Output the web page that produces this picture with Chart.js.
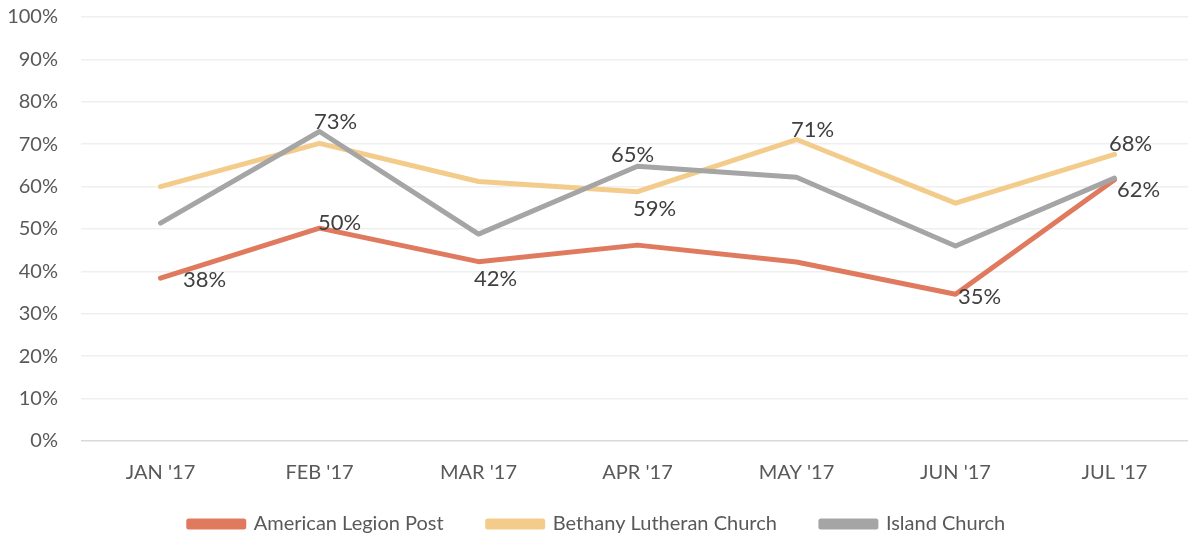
<!DOCTYPE html>
<html>
<head>
<meta charset="utf-8">
<script src="https://cdn.jsdelivr.net/npm/chart.js@4/dist/chart.umd.min.js"></script>
<style>
  html, body { margin: 0; padding: 0; background: #fff; overflow: hidden; }
  #wrap { width: 1194px; height: 540px; }
</style>
</head>
<body>
<div id="wrap"><canvas id="lineChart"></canvas></div>
<script>
    var months = ["JAN '17", "FEB '17", "MAR '17", "APR '17", "MAY '17", "JUN '17", "JUL '17"];
    var yTicks = [0, 10, 20, 30, 40, 50, 60, 70, 80, 90, 100];

    var legionPost = [38.4, 50.2, 42.3, 46.2, 42.2, 34.6, 61.6];
    var bethanyLutheran = [60.0, 70.2, 61.2, 58.8, 71.1, 56.1, 67.6];
    var islandChurch = [51.4, 73.0, 48.8, 64.8, 62.2, 46.0, 62.0];

    // which points carry a value label, and where it sits
    var legionLabels = ['farRight', 'upRight', 'down', null, null, 'right', null];
    var bethanyLabels = [null, null, null, 'down', 'up', null, 'up'];
    var islandLabels = [null, 'up', null, 'upLeft', null, null, 'downRight'];

    var labelOffsets = {
        farRight: [44, 2],
        right: [24, 3],
        upRight: [20, -5],
        down: [17, 17],
        up: [16, -10],
        upLeft: [-5, -11],
        downRight: [24, 12]
    };

    var pointLabels = {
        id: 'pointLabels',
        afterDatasetsDraw: function (chart) {
            var c = chart.ctx;
            c.save();
            c.font = '22px Lato';
            c.fillStyle = '#404040';
            c.textAlign = 'center';
            c.textBaseline = 'middle';
            chart.data.datasets.forEach(function (ds, i) {
                var meta = chart.getDatasetMeta(i);
                meta.data.forEach(function (pt, j) {
                    var where = ds.pointLabels[j];
                    if (!where) return;
                    var off = labelOffsets[where];
                    c.fillText(Math.round(ds.data[j]) + '%', pt.x + off[0], pt.y + off[1]);
                });
            });
            c.restore();
        }
    };

    // legend padding sets the gap between items; keep it from eating chart height
    var legendSpacing = {
        id: 'legendSpacing',
        beforeLayout: function (chart) {
            var lg = chart.legend;
            if (!lg || lg.trimmed) return;
            var fit = lg.fit;
            lg.fit = function () { fit.call(this); this.height = 54; };
            lg.trimmed = true;
        },
        afterLayout: function (chart) {
            // let the legend box reach up into the spare room under the x labels
            chart.legend.top -= 16;
            chart.legend.height += 16;
        }
    };

    var ctx = document.getElementById('lineChart').getContext('2d');
    var chart = new Chart(ctx, {
        type: 'line',
        data: {
            labels: months,
            datasets: [{
                label: 'American Legion Post',
                data: legionPost,
                pointLabels: legionLabels,
                borderColor: '#e07a5f',
                backgroundColor: '#e07a5f',
                order: 3
            }, {
                label: 'Bethany Lutheran Church',
                data: bethanyLutheran,
                pointLabels: bethanyLabels,
                borderColor: '#f3cc8c',
                backgroundColor: '#f3cc8c',
                order: 2
            }, {
                label: 'Island Church',
                data: islandChurch,
                pointLabels: islandLabels,
                borderColor: '#a5a5a5',
                backgroundColor: '#a5a5a5',
                order: 1
            }]
        },
        options: {
            responsive: true,
            maintainAspectRatio: false,
            animation: false,
            layout: { padding: { top: 17, right: 0, bottom: 0, left: 0 } },
            elements: {
                line: { borderWidth: 5, tension: 0, borderCapStyle: 'round', borderJoinStyle: 'round' },
                point: { radius: 0, hoverRadius: 0 }
            },
            plugins: {
                legend: {
                    position: 'bottom',
                    labels: {
                        boxWidth: 55,
                        boxHeight: 6,
                        padding: 44,
                        color: '#595959',
                        font: { family: 'Lato', size: 20 },
                        sort: function (a, b) { return a.datasetIndex - b.datasetIndex; }
                    }
                },
                tooltip: { enabled: false }
            },
            scales: {
                x: {
                    offset: true,
                    afterFit: function (scale) { scale.height = 45; },
                    grid: { display: false, drawTicks: false },
                    border: { display: false },
                    ticks: {
                        color: '#595959',
                        padding: 20,
                        maxRotation: 0,
                        font: { family: 'Lato', size: 20 }
                    }
                },
                y: {
                    min: 0,
                    max: 100,
                    afterFit: function (scale) { scale.width = 81; },
                    afterBuildTicks: function (scale) {
                        scale.ticks = yTicks.map(function (v) { return { value: v }; });
                    },
                    border: { display: false },
                    grid: {
                        drawTicks: true,
                        tickLength: 23,
                        tickColor: 'rgba(0,0,0,0)',
                        lineWidth: 1.5,
                        color: function (c) { return c.tick && c.tick.value === 0 ? '#d9d9d9' : '#efefef'; }
                    },
                    ticks: {
                        color: '#595959',
                        padding: 0,
                        font: { family: 'Lato', size: 20 },
                        callback: function (v) { return v + '%'; }
                    }
                }
            }
        },
        plugins: [pointLabels, legendSpacing]
    });
</script>
</body>
</html>
